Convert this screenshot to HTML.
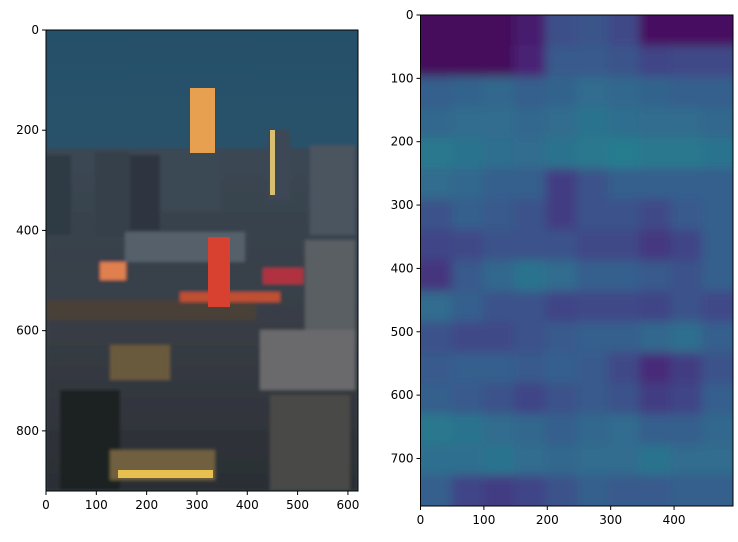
<!DOCTYPE html>
<html><head><meta charset="utf-8"><style>
body{margin:0;background:#fff;}
svg text{font-family:"DejaVu Sans","Liberation Sans",sans-serif;font-size:12px;fill:#000;}
</style></head><body>
<svg id="fig" width="738" height="537" viewBox="0 0 738 537">
<defs>
<filter id="bl" x="-5%" y="-5%" width="110%" height="110%"><feGaussianBlur stdDeviation="5"/></filter>
<filter id="bl2"><feGaussianBlur stdDeviation="1.5"/></filter>
<clipPath id="cl"><rect x="46" y="30" width="312" height="461"/></clipPath>
<clipPath id="cr"><rect x="420.5" y="15" width="312.5" height="491"/></clipPath>
<linearGradient id="sky" x1="0" y1="0" x2="0" y2="1"><stop offset="0" stop-color="#25506a"/><stop offset="1" stop-color="#35586c"/></linearGradient>
<linearGradient id="city" x1="0" y1="0" x2="0" y2="1"><stop offset="0" stop-color="#3a4754"/><stop offset="0.5" stop-color="#393e46"/><stop offset="1" stop-color="#2a2e33"/></linearGradient>
</defs>
<g id="photo" clip-path="url(#cl)">
<rect x="46" y="30" width="312" height="461" fill="url(#sky)"/>
<g filter="url(#bl2)">
<rect x="46" y="148" width="312" height="343" fill="url(#city)"/>
<rect x="46" y="155" width="25" height="80" fill="#2f3a44"/>
<rect x="95" y="152" width="35" height="85" fill="#36414c"/>
<rect x="130" y="155" width="30" height="75" fill="#2e3640"/>
<rect x="160" y="150" width="60" height="60" fill="#3b4855"/>
<rect x="268" y="130" width="22" height="70" fill="#3c4654"/>
<rect x="310" y="145" width="45" height="90" fill="#4b5560"/>
<rect x="125" y="232" width="120" height="30" fill="#55606a"/>
<rect x="305" y="240" width="50" height="120" fill="#5a5e64"/>
<rect x="260" y="330" width="95" height="60" fill="#6a6b6d"/>
<rect x="46" y="300" width="210" height="20" fill="#4a4038"/>
<rect x="110" y="345" width="60" height="35" fill="#6b5a3c"/>
<rect x="60" y="390" width="60" height="100" fill="#1e2420"/>
<rect x="270" y="395" width="80" height="95" fill="#4a4846"/>
<rect x="110" y="450" width="105" height="30" fill="#6f6140"/>
<rect x="100" y="262" width="26" height="18" fill="#e08050"/>
<rect x="263" y="268" width="40" height="16" fill="#b03040"/>
<rect x="180" y="292" width="100" height="10" fill="#c05030"/>
</g>
<rect x="190" y="88" width="25" height="65" fill="#e6a050"/>
<rect x="208" y="237" width="22" height="70" fill="#d84030"/>
<rect x="270" y="130" width="5" height="65" fill="#d8c070"/>
<rect x="118" y="470" width="95" height="8" fill="#e8c050"/>
</g>
<rect x="46" y="30" width="312" height="461" fill="none" stroke="#000" stroke-width="1"/>
<g id="heat" clip-path="url(#cr)"><g id="cells" filter="url(#bl)"></g></g>
<rect x="420.5" y="15" width="312.5" height="491" fill="none" stroke="#000" stroke-width="1"/>
<g id="axes"></g>
</svg>
<script>
const heatRows = [
[0.02,0.02,0.02,0.08,0.24,0.26,0.22,0.04,0.04,0.04],
[0.02,0.02,0.02,0.1,0.28,0.28,0.26,0.2,0.22,0.22],
[0.3,0.32,0.33,0.3,0.32,0.35,0.33,0.32,0.3,0.3],
[0.33,0.35,0.35,0.33,0.35,0.38,0.36,0.35,0.35,0.33],
[0.4,0.38,0.36,0.35,0.38,0.4,0.42,0.4,0.4,0.38],
[0.35,0.33,0.3,0.3,0.18,0.25,0.3,0.3,0.3,0.3],
[0.25,0.3,0.28,0.25,0.18,0.25,0.25,0.22,0.28,0.3],
[0.2,0.22,0.25,0.25,0.25,0.22,0.22,0.16,0.2,0.3],
[0.15,0.28,0.33,0.38,0.35,0.3,0.3,0.28,0.25,0.3],
[0.35,0.3,0.25,0.25,0.2,0.22,0.22,0.2,0.25,0.22],
[0.25,0.22,0.22,0.25,0.28,0.3,0.3,0.33,0.36,0.3],
[0.28,0.3,0.3,0.28,0.3,0.28,0.22,0.12,0.18,0.25],
[0.3,0.28,0.25,0.2,0.25,0.28,0.25,0.18,0.2,0.3],
[0.4,0.38,0.35,0.33,0.3,0.33,0.35,0.3,0.3,0.33],
[0.36,0.36,0.38,0.35,0.33,0.35,0.35,0.38,0.35,0.35],
[0.3,0.2,0.18,0.2,0.25,0.3,0.28,0.28,0.3,0.3]
];
const heatW = 493, heatH = 775;
const photoW = 620, photoH = 920;
const photoXTicks = [0,100,200,300,400,500,600];
const photoYTicks = [0,200,400,600,800];
const heatXTicks = [0,100,200,300,400];
const heatYTicks = [0,100,200,300,400,500,600,700];

const NS="http://www.w3.org/2000/svg";
const L={x0:46,y0:30,s:312/620,sy:461/920};
const R={x0:420.5,y0:15,sx:312.5/493,sy:491/775};
const lx=v=>L.x0+v*L.s, ly=v=>L.y0+v*L.sy;
const rx=v=>R.x0+v*R.sx, ry=v=>R.y0+v*R.sy;
const vir=[[0,[68,1,84]],[0.1,[72,36,117]],[0.2,[65,68,135]],[0.3,[53,95,141]],[0.4,[42,120,142]],[0.5,[33,145,140]],[0.6,[34,168,132]]];
function cmap(t){for(let i=0;i<vir.length-1;i++){const[a,ca]=vir[i],[b,cb]=vir[i+1];if(t<=b){const f=(t-a)/(b-a);return`rgb(${ca.map((c,k)=>Math.round(c+(cb[k]-c)*f)).join(',')})`;}}return'rgb(34,168,132)';}
const cells=document.getElementById('cells');
const nr=heatRows.length,nc=heatRows[0].length;
heatRows.forEach((row,i)=>row.forEach((v,j)=>{
 const r=document.createElementNS(NS,'rect');
 const x0=j*heatW/nc,x1=(j+1)*heatW/nc,y0=i*heatH/nr,y1=(i+1)*heatH/nr;
 r.setAttribute('x',rx(x0)-(j==0?20:0));r.setAttribute('y',ry(y0)-(i==0?20:0));
 r.setAttribute('width',rx(x1)-rx(x0)+1+(j==0||j==nc-1?20:0));r.setAttribute('height',ry(y1)-ry(y0)+1+(i==0||i==nr-1?20:0));
 r.setAttribute('fill',cmap(v));
 
 
 cells.appendChild(r);
}));
const ax=document.getElementById('axes');
function line(x1,y1,x2,y2){const l=document.createElementNS(NS,'line');l.setAttribute('x1',x1);l.setAttribute('y1',y1);l.setAttribute('x2',x2);l.setAttribute('y2',y2);l.setAttribute('stroke','#000');ax.appendChild(l);}
function text(x,y,s,anchor,name){const t=document.createElementNS(NS,'text');t.setAttribute('x',x);t.setAttribute('y',y);t.setAttribute('text-anchor',anchor);t.textContent=s;
 
 
 ax.appendChild(t);}
const lb=30+461, rb=15+491;
photoXTicks.forEach(v=>{line(lx(v),lb,lx(v),lb+4);text(lx(v),lb+18,v,'middle','photo-x-tick-label');});
photoYTicks.forEach(v=>{line(L.x0-4,ly(v),L.x0,ly(v));text(L.x0-7,ly(v)+4,v,'end','photo-y-tick-label');});
heatXTicks.forEach(v=>{line(rx(v),rb,rx(v),rb+4);text(rx(v),rb+18,v,'middle','heatmap-x-tick-label');});
heatYTicks.forEach(v=>{line(R.x0-4,ry(v),R.x0,ry(v));text(R.x0-7,ry(v)+4,v,'end','heatmap-y-tick-label');});
</script>
</body></html>
